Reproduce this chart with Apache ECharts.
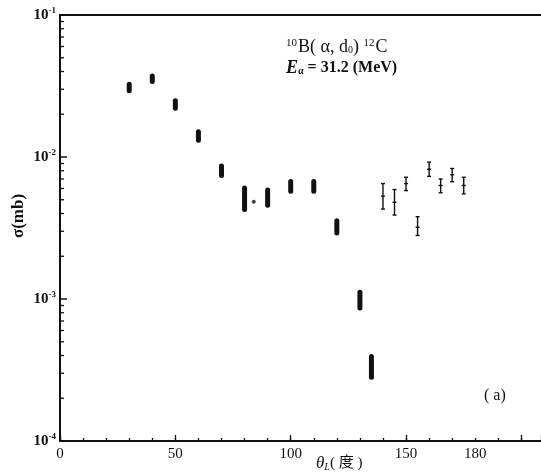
<!DOCTYPE html>
<html>
<head>
<meta charset="utf-8">
<script src="https://cdn.jsdelivr.net/npm/echarts@6/dist/echarts.min.js"></script>
<style>html,body{margin:0;padding:0;background:#fff;}#c{width:541px;height:476px;}</style>
</head>
<body>
<div id="c"></div>
<script>
// ---- data ----
const anglesFilled = [30, 40, 50, 60, 70, 80, 90, 100, 110, 120, 130, 135];
const sigmaFilled  = [0.0308, 0.0356, 0.0234, 0.0141, 0.0080, 0.0051, 0.0052, 0.0062, 0.0062, 0.0032, 0.00098, 0.00034];
const lowFilled    = [0.0281, 0.0327, 0.0212, 0.0126, 0.0071, 0.0041, 0.0044, 0.0055, 0.0055, 0.0028, 0.00083, 0.00027];
const highFilled   = [0.0339, 0.0388, 0.0259, 0.0157, 0.0090, 0.0063, 0.0061, 0.0070, 0.0070, 0.0037, 0.00116, 0.00041];

const anglesOpen = [140, 145, 150, 155, 160, 165, 170, 175];
const sigmaOpen  = [0.0053, 0.0048, 0.0065, 0.0032, 0.0082, 0.0063, 0.0075, 0.0063];
const lowOpen    = [0.0043, 0.0039, 0.0058, 0.0028, 0.0073, 0.0056, 0.0067, 0.0055];
const highOpen   = [0.0065, 0.0059, 0.0072, 0.0038, 0.0092, 0.0070, 0.0083, 0.0072];

const dotAngles = [84];
const dotSigma  = [0.00484];

const xTickLabels = [0, 50, 100, 150, 180];
const yTickExponents = ['-1', '-2', '-3', '-4'];
const yTickValues = [1e-1, 1e-2, 1e-3, 1e-4];
const yMinorMultipliers = [2, 3, 4, 5, 6, 7, 8, 9];
const yDecades = [1e-4, 1e-3, 1e-2];

// ---- build ----
const SERIF = '"Liberation Serif", "DejaVu Serif", "Noto Sans CJK SC", serif';
const filledData = anglesFilled.map((a, i) => [a, sigmaFilled[i], lowFilled[i], highFilled[i]]);
const openData = anglesOpen.map((a, i) => [a, sigmaOpen[i], lowOpen[i], highOpen[i]]);
const dotData = dotAngles.map((a, i) => [a, dotSigma[i]]);
const minorData = [];
yDecades.forEach(d => yMinorMultipliers.forEach(m => minorData.push([0, d * m])));

const chart = echarts.init(document.getElementById('c'), null, {renderer: 'canvas'});
const option = {
  backgroundColor: '#fff',
  animation: false,
  grid: {left: 60, right: 0, top: 15, bottom: 35, containLabel: false},
  xAxis: [{
    type: 'value', min: 0, max: 208.5, interval: 10,
    axisLine: {show: true, onZero: false, lineStyle: {color: '#111', width: 2}},
    axisTick: {show: true, inside: true, length: 3, lineStyle: {color: '#111', width: 1.3}},
    splitLine: {show: false},
    axisLabel: {
      show: true, margin: 6, color: '#111', fontFamily: SERIF, fontSize: 15,
      showMaxLabel: false,
      formatter: v => (xTickLabels.indexOf(v) >= 0 ? String(v) : '')
    }
  }, {
    type: 'value', min: 0, max: 208.5, interval: 50, position: 'bottom',
    axisLine: {show: false},
    axisTick: {show: true, inside: true, length: 6, lineStyle: {color: '#111', width: 1.3}},
    axisLabel: {show: false}, splitLine: {show: false}
  }, {
    type: 'value', min: 0, max: 208.5, position: 'top',
    axisLine: {show: true, lineStyle: {color: '#111', width: 2}},
    axisTick: {show: false}, axisLabel: {show: false}, splitLine: {show: false}
  }],
  yAxis: {
    type: 'log', logBase: 10, min: 1e-4, max: 1e-1,
    axisLine: {show: true, onZero: false, lineStyle: {color: '#111', width: 2}},
    axisTick: {show: true, inside: true, length: 7, lineStyle: {color: '#111', width: 1.5}},
    splitLine: {show: false},
    axisLabel: {
      margin: 4, color: '#111', fontFamily: SERIF, fontWeight: 'bold', fontSize: 15,
      formatter: v => {
        let idx = -1;
        yTickValues.forEach((t, i) => { if (Math.abs(Math.log10(v) - Math.log10(t)) < 1e-6) idx = i; });
        return idx >= 0 ? '10{s|' + yTickExponents[idx] + '}' : '';
      },
      rich: {s: {fontSize: 9, fontWeight: 'bold', fontFamily: SERIF, verticalAlign: 'top', padding: [0, 0, 9, 0]}}
    }
  },
  graphic: [
    {type: 'text', left: 286, top: 38, style: {
      text: '{sup|10}B( α, d{sub|0}) {sup|12}C', fill: '#111', font: '18px ' + SERIF,
      rich: {sup: {fontSize: 11, fontFamily: SERIF, padding: [0, 1, 8, 0]}, sub: {fontSize: 10, fontFamily: SERIF, padding: [6, 0, 0, 0]}}
    }},
    {type: 'text', left: 286, top: 59, style: {
      text: '{it|E}{sub|α} = 31.2 (MeV)', fill: '#111', font: 'bold 16px ' + SERIF,
      rich: {it: {fontStyle: 'italic', fontWeight: 'bold', fontSize: 18, fontFamily: SERIF}, sub: {fontSize: 10, fontWeight: 'bold', fontFamily: SERIF, padding: [7, 0, 0, 0]}}
    }},
    {type: 'text', left: 484, top: 388, style: {text: '( a)', fill: '#111', font: '16px ' + SERIF}},
    {type: 'text', left: 316, top: 455, style: {
      text: '{it|θ}{sub|L}( 度 )', fill: '#111', font: '15px ' + SERIF,
      rich: {it: {fontStyle: 'italic', fontSize: 17, fontFamily: SERIF}, sub: {fontStyle: 'italic', fontSize: 10, fontFamily: SERIF, padding: [7, 0, 0, 0]}}
    }},
    {type: 'text', x: 19, y: 216, rotation: Math.PI / 2, style: {
      text: 'σ(mb)', fill: '#111', font: 'bold 17px ' + SERIF, textAlign: 'center', textVerticalAlign: 'middle'
    }}
  ],
  series: [{
    type: 'custom', name: 'filled', xAxisIndex: 0, data: filledData, clip: false,
    renderItem: (params, api) => {
      const x = api.value(0);
      const pLo = api.coord([x, api.value(2)]);
      const pHi = api.coord([x, api.value(3)]);
      return {type: 'rect', shape: {x: pLo[0] - 2.5, y: pHi[1], width: 5, height: pLo[1] - pHi[1], r: 2.5}, style: {fill: '#111'}};
    }
  }, {
    type: 'custom', name: 'open', xAxisIndex: 0, data: openData, clip: false,
    renderItem: (params, api) => {
      const x = api.value(0);
      const pLo = api.coord([x, api.value(2)]);
      const pHi = api.coord([x, api.value(3)]);
      const pM = api.coord([x, api.value(1)]);
      const st = {stroke: '#111', lineWidth: 1.4};
      return {type: 'group', children: [
        {type: 'line', shape: {x1: pLo[0], y1: pLo[1], x2: pHi[0], y2: pHi[1]}, style: st},
        {type: 'line', shape: {x1: pHi[0] - 2, y1: pHi[1], x2: pHi[0] + 2, y2: pHi[1]}, style: st},
        {type: 'line', shape: {x1: pLo[0] - 2, y1: pLo[1], x2: pLo[0] + 2, y2: pLo[1]}, style: st},
        {type: 'line', shape: {x1: pM[0] - 2, y1: pM[1], x2: pM[0] + 2, y2: pM[1]}, style: st}
      ]};
    }
  }, {
    type: 'scatter', name: 'dot', xAxisIndex: 0, data: dotData, symbol: 'circle', symbolSize: 4,
    itemStyle: {color: '#111'}
  }, {
    type: 'custom', name: 'yMinorTicks', xAxisIndex: 0, data: minorData, clip: false, silent: true,
    renderItem: (params, api) => {
      const p = api.coord([api.value(0), api.value(1)]);
      return {type: 'line', shape: {x1: p[0], y1: p[1], x2: p[0] + 4, y2: p[1]}, style: {stroke: '#111', lineWidth: 1.3}};
    }
  }]
};
chart.setOption(option);
</script>
</body>
</html>
